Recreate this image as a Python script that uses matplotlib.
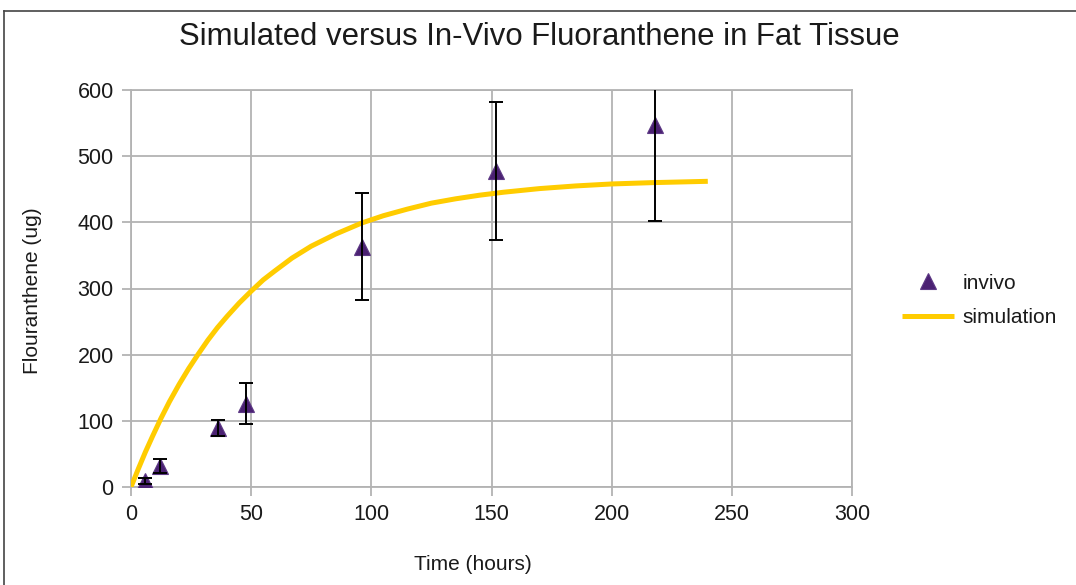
import matplotlib
matplotlib.use("Agg")
import matplotlib.pyplot as plt
from matplotlib.lines import Line2D

plt.rcParams['font.family'] = ['Liberation Sans', 'DejaVu Sans']

# in-vivo measurements (time in hours, amount in ug, error bar half-width)
invivo_t = [6, 12, 36, 48, 96, 152, 218]
invivo_y = [9, 32, 89, 126, 363, 478, 547]
invivo_err = [5, 11, 12, 31, 81, 104, 145]

# simulated curve
sim_t = [0, 3, 6, 9, 12.5, 16, 20, 24, 28, 32, 36, 40, 45, 50, 55, 60, 67,
         75, 85, 96, 105, 115, 125, 135, 145, 155, 170, 185, 200, 217, 240]
sim_y = [0, 27, 53, 77, 104, 129, 155, 179, 201, 222, 241, 258, 278, 296,
         313, 327, 346, 364, 382, 399, 410, 420, 429, 435.5, 441, 445.5, 451,
         455, 458, 460, 462]

xticks = [0, 50, 100, 150, 200, 250, 300]
yticks = [0, 100, 200, 300, 400, 500, 600]

grid_col = '#b3b3b3'
purple = '#4b2173'
yellow = '#ffcc00'

fig = plt.figure(figsize=(10.76, 5.85), dpi=100)
ax = fig.add_axes([131 / 1076, 1 - 487 / 585, (852 - 131) / 1076, (487 - 90) / 585])

ax.plot(sim_t, sim_y, color=yellow, linewidth=3.6, solid_capstyle='butt',
        solid_joinstyle='round', zorder=3, label='simulation')
ax.plot(invivo_t, invivo_y, linestyle='none', marker='^', markersize=12,
        color=purple, markeredgecolor='#5e3a86', markeredgewidth=0.8,
        zorder=4, label='invivo')
ax.errorbar(invivo_t, invivo_y, yerr=invivo_err, fmt='none', ecolor='black',
            elinewidth=1.4, capsize=5, capthick=1.4, zorder=5)

ax.set_xlim(0, 300)
ax.set_ylim(0, 600)
ax.set_xticks(xticks)
ax.set_yticks(yticks)
ax.grid(True, color=grid_col, linewidth=1.3)
ax.set_axisbelow(True)
for s in ax.spines.values():
    s.set_color(grid_col)
    s.set_linewidth(1.3)
ax.tick_params(axis='both', colors=grid_col, labelcolor='#1a1a1a',
               labelsize=15.5, length=6.5, width=1.3, pad=6)

fig.text(539 / 1076, 1 - 37 / 585, 'Simulated versus In-Vivo Fluoranthene in Fat Tissue',
         ha='center', va='center', fontsize=22.4, color='#1a1a1a')
fig.text(473 / 1076, 1 - 565 / 585, 'Time (hours)', ha='center', va='center',
         fontsize=15, color='#1a1a1a')
fig.text(33 / 1076, 1 - 291 / 585, 'Flouranthene (ug)', ha='center', va='center',
         rotation=90, fontsize=15, color='#1a1a1a')

handles, labels = ax.get_legend_handles_labels()
fig.legend([handles[1], handles[0]], [labels[1], labels[0]],
           loc='center left', bbox_to_anchor=(902 / 1076, 1 - 300.5 / 585),
           frameon=False, fontsize=15, borderpad=0, borderaxespad=0,
           handlelength=2.5, handletextpad=0.4, labelspacing=0.75,
           labelcolor='#1a1a1a')

# outer frame of the chart
fig.add_artist(Line2D([4 / 1076, 4 / 1076], [0, 1 - 11 / 585],
                      transform=fig.transFigure, color='#444444', linewidth=1.2))
fig.add_artist(Line2D([4 / 1076, 1], [1 - 11 / 585, 1 - 11 / 585],
                      transform=fig.transFigure, color='#444444', linewidth=1.2))

fig.savefig('out.png', dpi=100)
